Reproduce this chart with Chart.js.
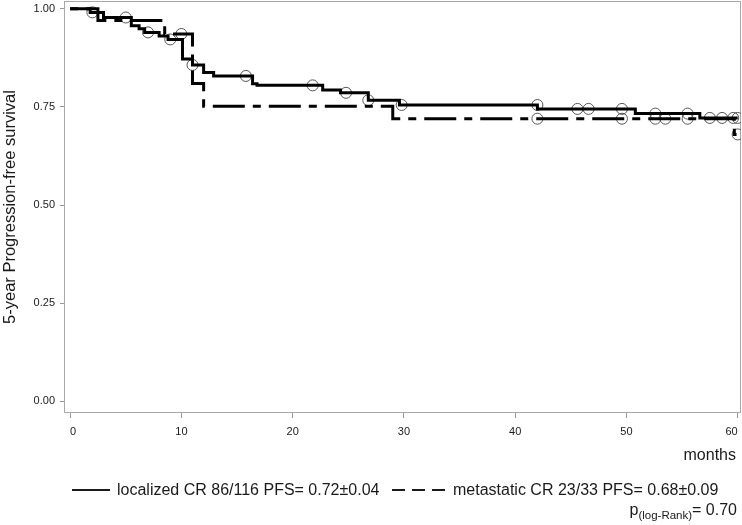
<!DOCTYPE html>
<html>
<head>
    <meta charset="utf-8">
    <title>5-year Progression-free survival</title>
    <script src="https://cdn.jsdelivr.net/npm/chart.js@4"></script>
    <style>
        html, body { margin: 0; padding: 0; background: #fff; }
        #wrap { position: relative; width: 742px; height: 525px; }
    </style>
</head>
<body>
<div id="wrap"><canvas id="kmChart" width="742" height="525"></canvas></div>
<script>
    // localized CR - step curve (time in months, survival after the step)
    const localizedTimes = [0, 1.8, 3.0, 5.5, 6.2, 6.7, 8.0, 8.8, 10.1, 11.0, 12.0, 12.9, 16.4, 16.8, 22.7, 24.3, 26.8, 29.6, 42.0, 50.8, 56.6, 60.0];
    const localizedSurv  = [1.0, 0.991, 0.978, 0.957, 0.949, 0.940, 0.931, 0.922, 0.872, 0.857, 0.838, 0.829, 0.809, 0.805, 0.793, 0.786, 0.767, 0.755, 0.745, 0.733, 0.722, 0.722];
    // localized CR - censored patients
    const localizedCensT = [2.0, 5.0, 7.0, 9.0, 11.0, 15.8, 21.8, 24.8, 26.8, 29.8, 42.0, 45.6, 46.6, 49.6, 52.6, 55.5, 57.5, 58.6, 59.6, 60.0];
    const localizedCensS = [0.991, 0.978, 0.940, 0.922, 0.857, 0.829, 0.805, 0.786, 0.767, 0.755, 0.755, 0.745, 0.745, 0.745, 0.733, 0.733, 0.722, 0.722, 0.722, 0.722];

    // metastatic CR - step curve
    const metastaticTimes = [0, 2.5, 8.5, 11.0, 12.0, 29.0, 59.7, 60.0];
    const metastaticSurv  = [1.0, 0.970, 0.936, 0.810, 0.752, 0.720, 0.680, 0.680];
    // metastatic CR - censored patients
    const metastaticCensT = [10.0, 42.0, 49.6, 52.6, 53.5, 55.5, 60.0];
    const metastaticCensS = [0.936, 0.720, 0.720, 0.720, 0.720, 0.720, 0.680];

    const xTicks = [0, 10, 20, 30, 40, 50, 60];
    const yTicks = [0, 0.25, 0.5, 0.75, 1.0];

    const legendLocalized = 'localized CR 86/116 PFS= 0.72\u00b10.04';
    const legendMetastatic = 'metastatic CR 23/33 PFS= 0.68\u00b10.09';

    const FONT = '"Liberation Sans", Arial, sans-serif';
    const INK = '#1a1a1a';

    function pts(xs, ys) {
        return xs.map((x, i) => ({ x: x, y: ys[i] }));
    }

    // box around plot + legend texts at the bottom
    const extras = {
        id: 'extras',
        beforeDatasetsDraw(chart) {
            const a = chart.chartArea;
            const ctx = chart.ctx;
            ctx.save();
            ctx.strokeStyle = '#a8a8a8';
            ctx.lineWidth = 1;
            ctx.strokeRect(a.left + 0.5, a.top + 0.5, a.right - a.left - 1, a.bottom - a.top - 1);
            ctx.restore();
        },
        afterDraw(chart) {
            const ctx = chart.ctx;
            ctx.save();
            ctx.fillStyle = INK;
            ctx.strokeStyle = INK;
            ctx.textBaseline = 'middle';

            ctx.font = '16px ' + FONT;
            ctx.textAlign = 'right';
            ctx.fillText('months', 736, 456);

            // legend row
            const ly = 490;
            ctx.lineWidth = 2;
            ctx.beginPath();
            ctx.moveTo(72, ly);
            ctx.lineTo(110, ly);
            ctx.stroke();
            ctx.textAlign = 'left';
            ctx.fillText(legendLocalized, 117, ly + 1);

            ctx.setLineDash([13, 7]);
            ctx.beginPath();
            ctx.moveTo(392, ly);
            ctx.lineTo(446, ly);
            ctx.stroke();
            ctx.setLineDash([]);
            ctx.fillText(legendMetastatic, 453, ly + 1);

            // p(log-Rank)= 0.70
            const tail = '= 0.70';
            const sub = '(log-Rank)';
            ctx.font = '16px ' + FONT;
            const wTail = ctx.measureText(tail).width;
            const wP = ctx.measureText('p').width;
            ctx.font = '11.5px ' + FONT;
            const wSub = ctx.measureText(sub).width;
            let px = 737 - wTail - wSub - wP;
            const py = 511;
            ctx.font = '16px ' + FONT;
            ctx.fillText('p', px, py);
            px += wP;
            ctx.font = '11.5px ' + FONT;
            ctx.fillText(sub, px, py + 5);
            px += wSub;
            ctx.font = '16px ' + FONT;
            ctx.fillText(tail, px, py);
            ctx.restore();
        }
    };

    const ctx = document.getElementById('kmChart').getContext('2d');
    new Chart(ctx, {
        type: 'line',
        data: {
            datasets: [
                {
                    label: 'localized CR',
                    data: pts(localizedTimes, localizedSurv),
                    stepped: true,
                    borderColor: '#000',
                    borderWidth: 3,
                    pointRadius: 0,
                    fill: false
                },
                {
                    label: 'metastatic CR',
                    data: pts(metastaticTimes, metastaticSurv),
                    stepped: true,
                    borderColor: '#000',
                    borderWidth: 3,
                    borderDash: [8, 8, 32, 8],
                    pointRadius: 0,
                    fill: false
                },
                {
                    label: 'localized censored',
                    type: 'scatter',
                    data: pts(localizedCensT, localizedCensS),
                    showLine: false,
                    pointStyle: 'circle',
                    pointRadius: 5.5,
                    pointBorderWidth: 1,
                    pointBorderColor: '#555',
                    pointBackgroundColor: 'rgba(0,0,0,0)'
                },
                {
                    label: 'metastatic censored',
                    type: 'scatter',
                    data: pts(metastaticCensT, metastaticCensS),
                    showLine: false,
                    pointStyle: 'circle',
                    pointRadius: 5.5,
                    pointBorderWidth: 1,
                    pointBorderColor: '#555',
                    pointBackgroundColor: 'rgba(0,0,0,0)'
                }
            ]
        },
        options: {
            responsive: false,
            animation: false,
            layout: { autoPadding: false, padding: { top: 1, right: 1, left: 0, bottom: 0 } },
            plugins: {
                legend: { display: false },
                tooltip: { enabled: false }
            },
            scales: {
                x: {
                    type: 'linear',
                    min: -0.55,
                    max: 60.3,
                    afterBuildTicks: s => { s.ticks = xTicks.map(v => ({ value: v })); },
                    afterFit: s => { s.height = 112; s.paddingLeft = 0; s.paddingRight = 0; },
                    grid: { drawOnChartArea: false, drawTicks: true, tickLength: 5, color: '#999' },
                    border: { display: false },
                    ticks: {
                        padding: 7,
                        align: 'inner',
                        color: INK,
                        font: { family: FONT, size: 11 },
                        callback: v => String(v)
                    }
                },
                y: {
                    type: 'linear',
                    min: -0.03,
                    max: 1.02,
                    afterBuildTicks: s => { s.ticks = yTicks.map(v => ({ value: v })); },
                    afterFit: s => { s.width = 64; s.paddingTop = 0; s.paddingBottom = 0; },
                    grid: { drawOnChartArea: false, drawTicks: true, tickLength: 4, color: '#999' },
                    border: { display: false },
                    ticks: {
                        padding: 5,
                        color: INK,
                        font: { family: FONT, size: 11 },
                        callback: v => Number(v).toFixed(2)
                    },
                    title: {
                        display: true,
                        text: '5-year Progression-free survival',
                        color: INK,
                        font: { family: FONT, size: 16.5 },
                        padding: { top: 1, bottom: 0 }
                    }
                }
            }
        },
        plugins: [extras]
    });
</script>
</body>
</html>
